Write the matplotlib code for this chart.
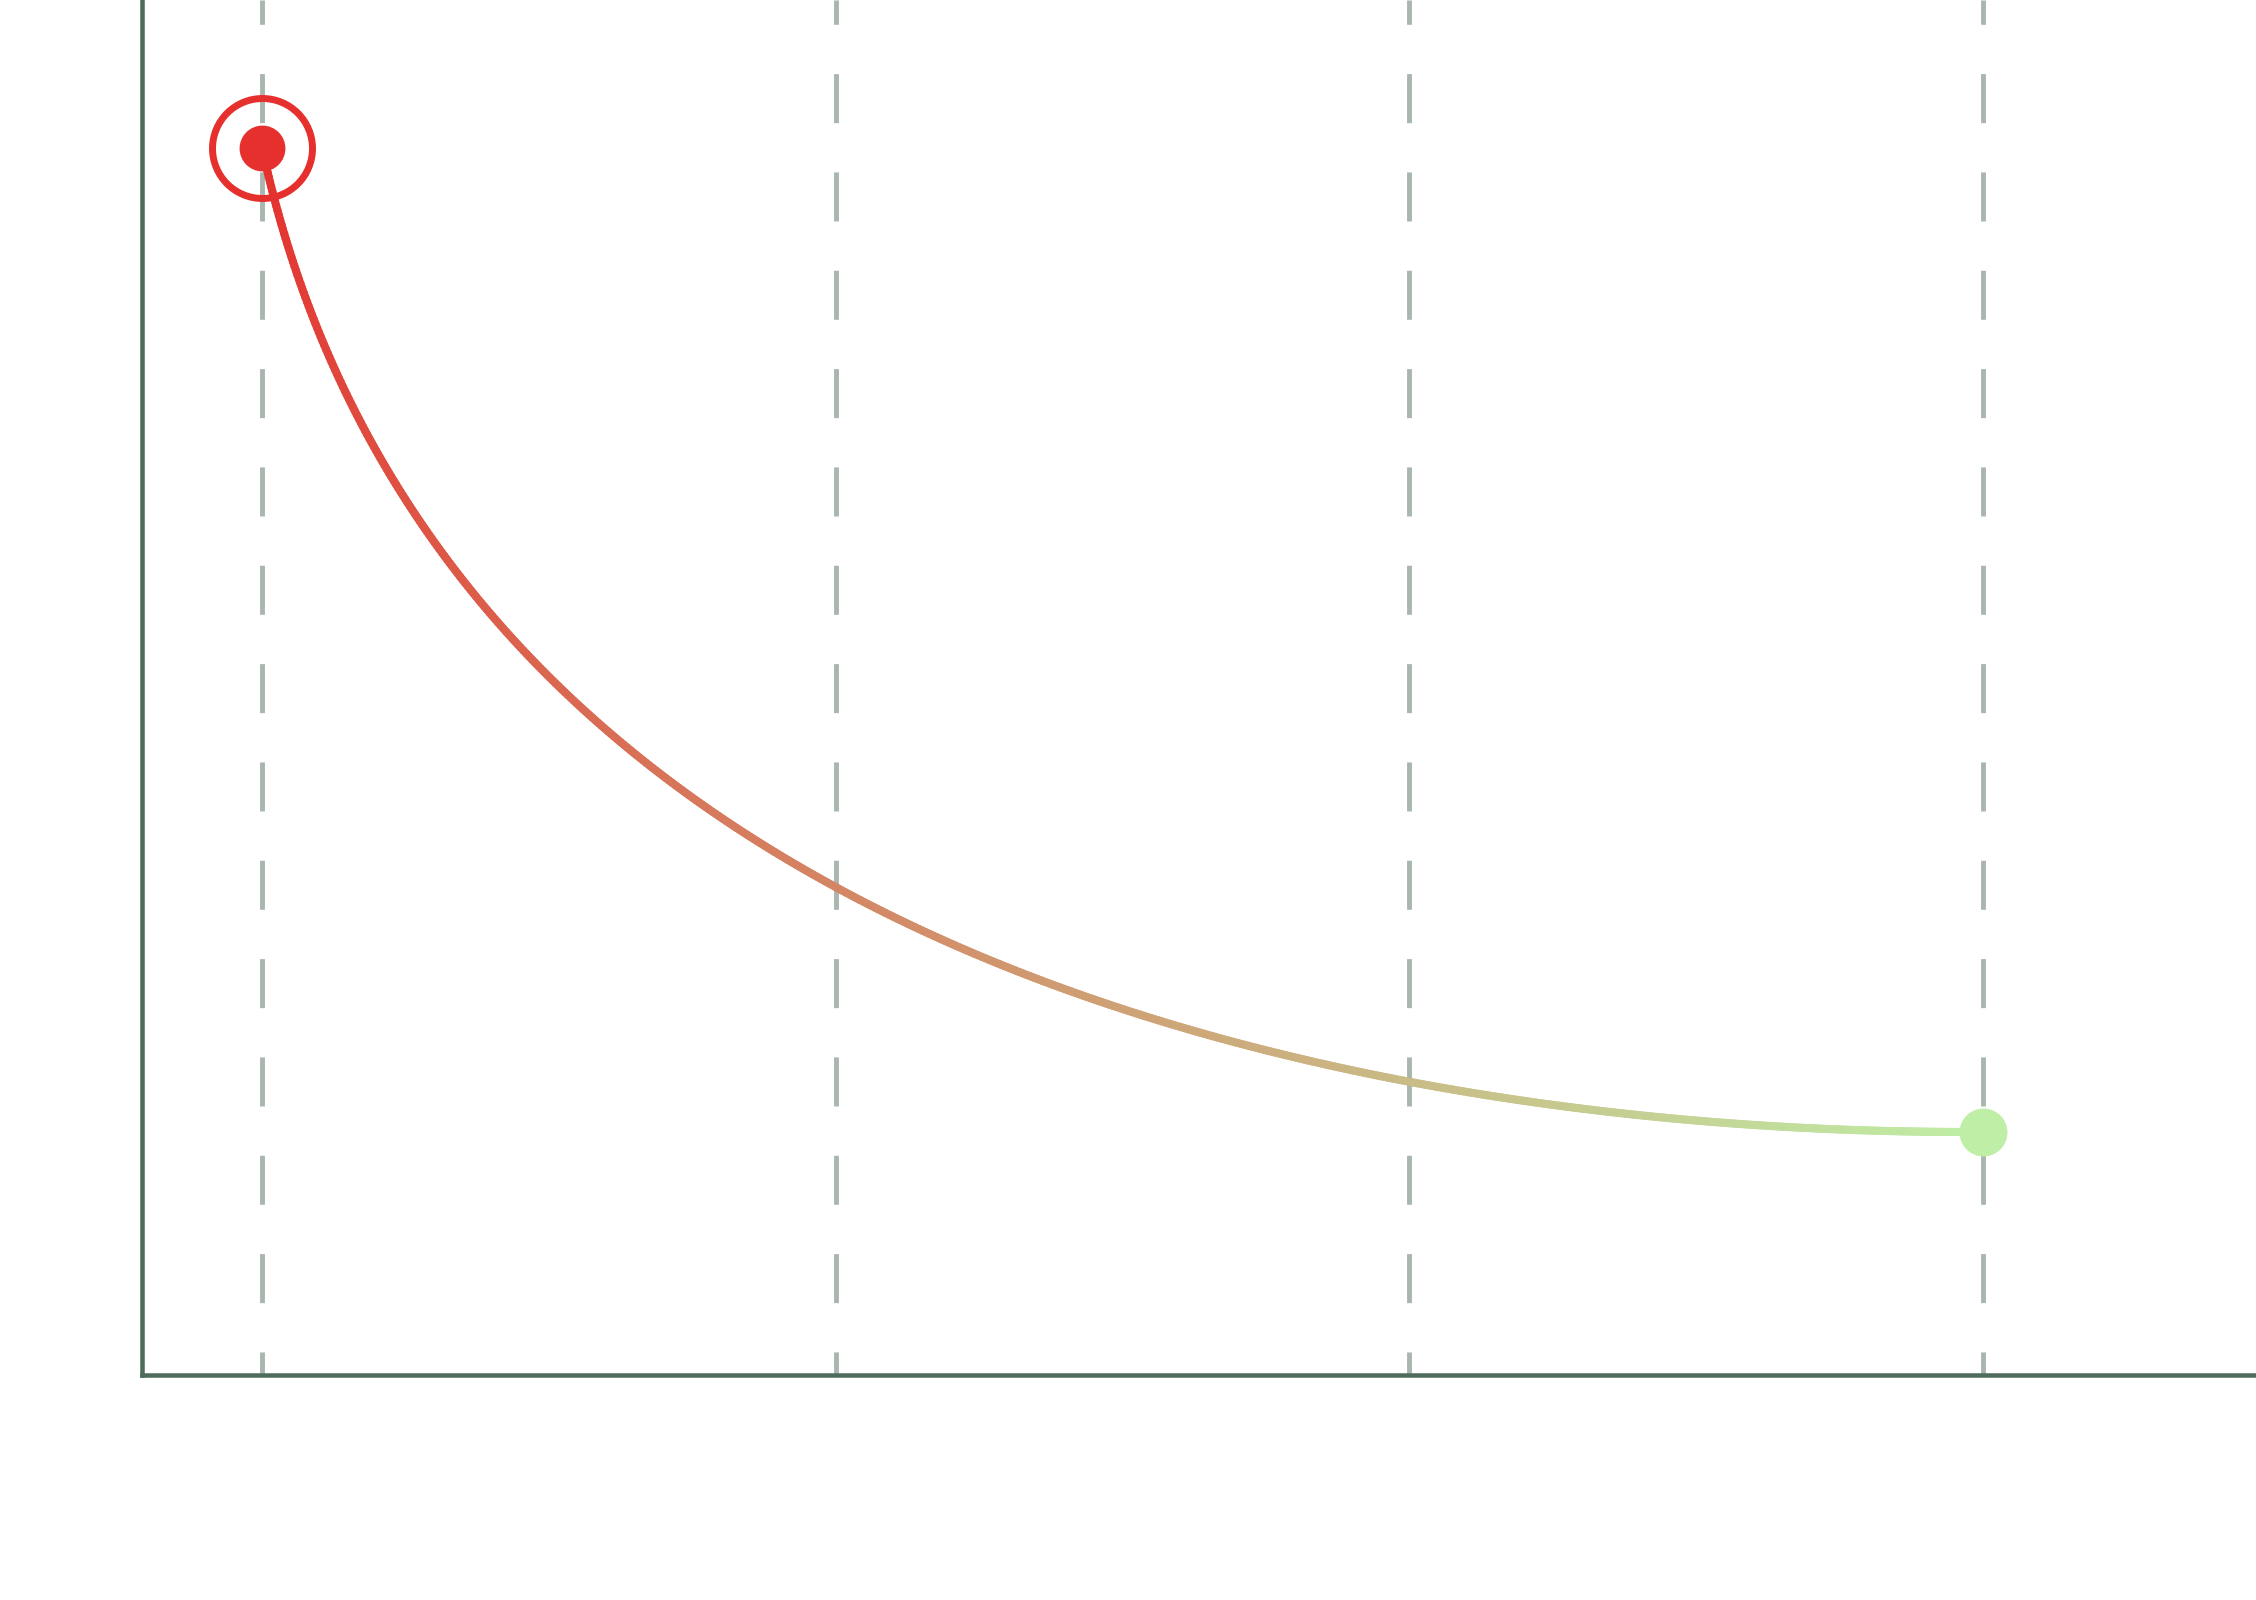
import numpy as np
import matplotlib
matplotlib.use("Agg")
import matplotlib.pyplot as plt
from matplotlib.collections import LineCollection
from matplotlib.colors import LinearSegmentedColormap

# ---- data ----
x_ticks = [0, 1, 2, 3]
start_point = [0, 101]   # (x, y) of the origin node
end_point = [3, 20]      # (x, y) of the destination node

# ---- style ----
RED = "#e5302e"
GREEN = "#bfeea6"
SPINE = "#4f6b5c"
GRID = "#a8b6ae"
HANDLE = 0.125  # bezier handle length as a fraction of horizontal distance

plt.rcParams["lines.scale_dashes"] = False

W, H, DPI = 2256, 1600, 100
fig = plt.figure(figsize=(W / DPI, H / DPI), dpi=DPI)
ax = fig.add_axes([142 / W, 225 / H, 1 - 142 / W, 1375 / H])

ax.set_xlim(-0.2092, 3.4759)
ax.set_ylim(0, 113.17)
ax.set_xticks(x_ticks)
ax.set_yticks([])
ax.tick_params(length=0, labelbottom=False, labelleft=False)
ax.grid(axis="x", color=GRID, linewidth=3.5, linestyle=(18.7, (35.3, 35.5)), zorder=1)
ax.set_axisbelow(True)

for side in ("top", "right"):
    ax.spines[side].set_visible(False)
for side in ("left", "bottom"):
    ax.spines[side].set_color(SPINE)
    ax.spines[side].set_linewidth(3.25)

# ---- connector curve (cubic bezier between the two nodes) ----
x0, y0 = start_point
x1, y1 = end_point
dx = x1 - x0
P = np.array([[x0, y0], [x0 + HANDLE * dx, y1], [x1 - HANDLE * dx, y1], [x1, y1]], dtype=float)
t = np.linspace(0, 1, 600)[:, None]
curve = ((1 - t) ** 3) * P[0] + 3 * ((1 - t) ** 2) * t * P[1] + 3 * (1 - t) * t ** 2 * P[2] + t ** 3 * P[3]

disp = ax.transData.transform(curve)
seglen = np.hypot(*np.diff(disp, axis=0).T)
arc = np.concatenate([[0], np.cumsum(seglen)])
frac = arc / arc[-1]
mid = (frac[:-1] + frac[1:]) / 2

cmap = LinearSegmentedColormap.from_list("flow", [RED, GREEN])
segs = np.stack([curve[:-1], curve[1:]], axis=1)
lc = LineCollection(segs, colors=cmap(mid), linewidths=5.8, capstyle="round", zorder=3)
ax.add_collection(lc)

# ---- nodes ----
ax.plot(x0, y0, "o", ms=33, color=RED, mew=0, zorder=5)
ax.plot(x0, y0, "o", ms=72, mfc="none", mec=RED, mew=5, zorder=5)
ax.plot(x1, y1, "o", ms=34.5, color=GREEN, mew=0, zorder=5)

fig.savefig("out.png", dpi=DPI)
